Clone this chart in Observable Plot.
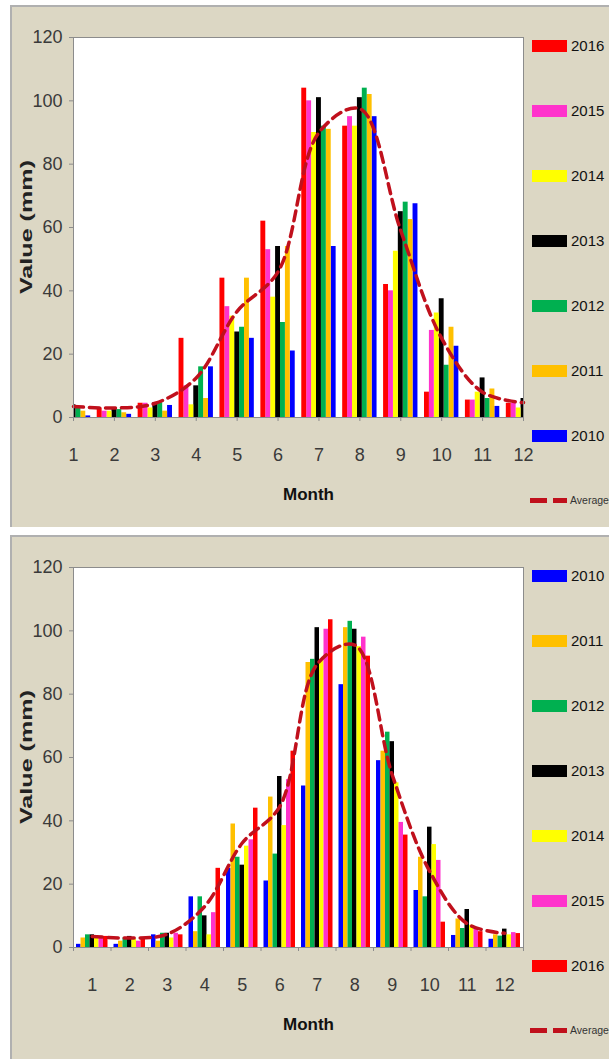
<!DOCTYPE html>
<html>
<head>
<meta charset="utf-8">
<script src="https://cdn.jsdelivr.net/npm/d3@7"></script>
<script src="https://cdn.jsdelivr.net/npm/@observablehq/plot@0.6"></script>
<style>
  html, body { margin: 0; padding: 0; background: #ffffff; }
  body { width: 609px; height: 1061px; overflow: hidden; position: relative; }
  .panel { position: absolute; left: 10px; width: 620px; background: #dcd7c4; box-shadow: inset 2px 2px 0 #b0b0b0; }
  .panel svg { position: absolute; left: 0; top: 0; }
  .ylab { position: absolute; left: 17px; white-space: nowrap; font: bold 16px "Liberation Sans", Arial, sans-serif; color: #222;
          transform: translate(-50%, -50%) rotate(-90deg) scaleX(1.57); }
  .sw { position: absolute; left: 522px; width: 35px; height: 12px; }
  .lt { position: absolute; left: 561px; font: 15px "Liberation Sans Narrow", sans-serif; color: #111; line-height: 16px; }
  .dash { position: absolute; height: 5px; background: #c0101c; }
  .avgt { position: absolute; left: 560px; font: 10.5px "Liberation Sans Narrow", sans-serif; color: #333; line-height: 12px; white-space: nowrap; }
</style>
</head>
<body>
<div class="panel" id="p1" style="top:5px;height:522px"></div>
<div class="panel" id="p2" style="top:535px;height:524px"></div>
<script>
// ---------- data ----------
const months = [1, 2, 3, 4, 5, 6, 7, 8, 9, 10, 11, 12];
const years = ["2010", "2011", "2012", "2013", "2014", "2015", "2016"];
const yearColors = ["#0000ff", "#ffc000", "#00b050", "#000000", "#ffff00", "#ff33cc", "#ff0000"];
const yTicks = [0, 20, 40, 60, 80, 100, 120];
const averageLabel = "Average";

// upper chart (values in mm)
const upper2010 = [0.5, 1, 3.8, 16, 25, 21, 54, 95, 67.5, 22.5, 3.5, 2];
const upper2011 = [2, 1.5, 2, 6, 44, 54, 91, 102, 62.5, 28.5, 9, 3];
const upper2012 = [3.5, 2.5, 4.7, 16, 28.5, 30, 92, 104, 68, 16.5, 6, 4];
const upper2013 = [4, 3, 4.7, 10, 27, 54, 101, 101, 65, 37.5, 12.5, 6];
const upper2014 = [3, 2, 3, 4, 32, 38, 90, 92, 52.5, 33, 8, 3];
const upper2015 = [3, 2, 4.5, 10, 35, 53, 100, 95, 40, 27.5, 5.5, 4.5];
const upper2016 = [4, 3, 4.5, 25, 44, 62, 104, 92, 42, 8, 5.5, 4.5];
const upperAverage = [3.5, 3, 4.5, 12.5, 33.5, 46, 90, 97.5, 59, 25, 8, 4.7];

// lower chart (values in mm)
const lower2010 = [1, 1, 4, 16, 25, 21, 51, 83, 59, 18, 3.8, 2.6];
const lower2011 = [3, 2, 2, 5, 39, 47.5, 90, 101, 62, 28.5, 9, 4];
const lower2012 = [4, 3, 4.5, 16, 28.5, 29.5, 91, 103, 68, 16, 6, 3.6];
const lower2013 = [4, 3.5, 4.5, 10, 26, 54, 101, 100.5, 65, 38, 12, 5.8];
const lower2014 = [3, 2.5, 3, 4, 32, 38.5, 91, 95, 52, 32.5, 7, 4];
const lower2015 = [3, 2, 4.5, 11, 34, 53, 100.5, 98, 39.5, 27.5, 6, 4.7];
const lower2016 = [3.5, 3, 4, 25, 44, 62, 103.5, 92, 35.5, 8, 5, 4.4];
const lowerAverage = [3.5, 3, 4.2, 13, 33, 44.5, 89.5, 95.5, 54.5, 24, 7.5, 4.5];

// ---------- build ----------
const BAR = 0.12; // bar width in month units

function barRows(series, reverse) {
  const out = [];
  series.forEach((vals, yi) => {
    const slot = reverse ? 6 - yi : yi;
    vals.forEach((v, mi) => {
      const m = months[mi];
      out.push({year: years[yi], month: m, value: v,
                x1: m + (slot - 3.5) * BAR, x2: m + (slot - 2.5) * BAR});
    });
  });
  return out;
}

function chart(series, avg, reverse, domain, boundaryTicks) {
  const bars = barRows(series, reverse);
  const avgRows = months.map((m, i) => ({month: m, value: avg[i]}));
  const marks = [
    Plot.frame({fill: "white"}),
    Plot.rect(bars, {x1: "x1", x2: "x2", y1: () => 0, y2: "value", fill: "year", clip: true}),
    Plot.line(avgRows, {x: "month", y: "value", curve: "catmull-rom", stroke: "#c0101c",
                        strokeWidth: 3.5, strokeDasharray: "10,6"}),
    Plot.frame({stroke: "#8c8c8c"}),
    Plot.axisY({ticks: yTicks, tickSize: 4, tickPadding: 7, fontSize: 18, label: null, stroke: "#8c8c8c"}),
    Plot.text(["Month"], {text: d => d, frameAnchor: "bottom", dx: 10, dy: 82,
                          fontWeight: "bold", fontSize: 17, fill: "#111"})
  ];
  if (boundaryTicks) {
    const edges = [months[0] - 0.5].concat(months.map(m => m + 0.5));
    marks.push(Plot.axisX({ticks: edges, tickFormat: () => "", tickSize: 4, label: null, stroke: "#8c8c8c"}));
    marks.push(Plot.axisX({ticks: months, tickFormat: d => String(d), tickSize: 0, tickPadding: 31,
                           fontSize: 18, label: null}));
  } else {
    marks.push(Plot.axisX({ticks: months, tickFormat: d => String(d), tickSize: 4, tickPadding: 27,
                           fontSize: 18, label: null, stroke: "#8c8c8c"}));
  }
  return Plot.plot({
    width: 520, height: 522,
    marginLeft: 63, marginRight: 7, marginTop: 32, marginBottom: 110,
    style: {background: "transparent", fontFamily: "'Liberation Sans Narrow', 'Liberation Sans', sans-serif",
            color: "#3a3a3a", overflow: "visible"},
    x: {type: "linear", domain},
    y: {domain: [0, 120]},
    color: {domain: years, range: yearColors},
    marks
  });
}

function legend(panel, order) {
  order.forEach((yi, k) => {
    const cy = 41 + k * 65;
    const sw = document.createElement("div");
    sw.className = "sw";
    sw.style.top = (cy - 6) + "px";
    sw.style.background = yearColors[yi];
    panel.appendChild(sw);
    const t = document.createElement("div");
    t.className = "lt";
    t.style.top = (cy - 8) + "px";
    t.textContent = years[yi];
    panel.appendChild(t);
  });
  const ay = 495;
  [[520, 17], [543, 14]].forEach(([l, w]) => {
    const d = document.createElement("div");
    d.className = "dash";
    d.style.left = l + "px"; d.style.width = w + "px"; d.style.top = (ay - 2) + "px";
    panel.appendChild(d);
  });
  const at = document.createElement("div");
  at.className = "avgt";
  at.style.top = (ay - 6) + "px";
  at.textContent = averageLabel;
  panel.appendChild(at);
  const yl = document.createElement("div");
  yl.className = "ylab";
  yl.style.top = "222px";
  yl.textContent = "Value (mm)";
  panel.appendChild(yl);
}

const p1 = document.getElementById("p1");
const p2 = document.getElementById("p2");
p1.appendChild(chart([upper2010, upper2011, upper2012, upper2013, upper2014, upper2015, upper2016],
                     upperAverage, true, [1, 12], false));
legend(p1, [6, 5, 4, 3, 2, 1, 0]);
p2.appendChild(chart([lower2010, lower2011, lower2012, lower2013, lower2014, lower2015, lower2016],
                     lowerAverage, false, [0.5, 12.5], true));
legend(p2, [0, 1, 2, 3, 4, 5, 6]);
</script>
</body>
</html>
